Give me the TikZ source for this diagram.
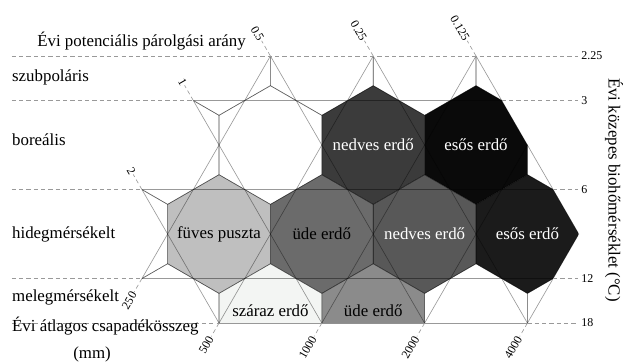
\documentclass[tikz,border=0pt]{standalone}
\usepackage{fontspec}
\setmainfont{Liberation Serif}

\definecolor{boreNedves}{HTML}{3B3B3B}
\definecolor{boreEsos}{HTML}{0A0A0A}
\definecolor{hidFuves}{HTML}{BFBFBF}
\definecolor{hidUde}{HTML}{6B6B6B}
\definecolor{hidNedves}{HTML}{585858}
\definecolor{hidEsos}{HTML}{1B1B1B}
\definecolor{melSzaraz}{HTML}{F3F5F3}
\definecolor{melUde}{HTML}{8B8B8B}

% one life-zone cell, centre (#1,#2)
\newcommand{\hexcell}[2]{({#1},{#2+4/3}) -- ({#1+1},{#2+2/3}) -- ({#1+1},{#2-2/3}) -- ({#1},{#2-4/3}) -- ({#1-1},{#2-2/3}) -- ({#1-1},{#2+2/3}) -- cycle}

\begin{document}
\begin{tikzpicture}[x=1.285cm, y=1.1128cm,
	grid/.style={draw=black, draw opacity=0.4, line width=0.45pt},
	guide/.style={draw=black!40, dash pattern=on 3pt off 2.2pt, line width=0.45pt},
	zone/.style={font=\fontsize{12}{14}\selectfont, inner sep=0pt},
	tick/.style={font=\fontsize{8.5}{10}\selectfont, inner sep=0.5pt},
	band/.style={font=\fontsize{12}{14}\selectfont, anchor=base west, inner sep=0pt}]

	\useasboundingbox (-4.261,-0.876) rectangle (7.879,7.258);

	% Zones
	\begin{scope}
		\clip (0,0) -- (-0.5,1) -- (-1.5,1) -- (-1,2) -- (-1.5,3) -- (-0.5,3) -- (0,4) -- (-0.5,5) -- (0.5,5) -- (1,6) -- (1.5,5) -- (2.5,5) -- (3,6) -- (3.5,5) -- (4.5,5) -- (5,6) -- (5.5,5) -- (6,4) -- (6.5,3) -- (7,2) -- (6.5,1) -- (6,0) -- cycle;
		\fill[boreNedves] \hexcell{3}{4};
		\fill[boreEsos] \hexcell{5}{4};
		\fill[hidFuves] \hexcell{0}{2};
		\fill[hidUde] \hexcell{2}{2};
		\fill[hidNedves] \hexcell{4}{2};
		\fill[hidEsos] \hexcell{6}{2};
		\fill[melSzaraz] \hexcell{1}{0};
		\fill[melUde] \hexcell{3}{0};
		% cell borders
		\foreach \cx/\cy in {-2/6,0/6,2/6,4/6,6/6,-1/4,1/4,3/4,5/4,7/4,-2/2,0/2,2/2,4/2,6/2,8/2,-1/0,1/0,3/0,5/0,7/0}
			\draw[grid] \hexcell{\cx}{\cy};
	\end{scope}

	% Axis points
	\coordinate (t2) at (-1.5,3);
	\coordinate (t1) at (-0.5,5);
	\coordinate (t05) at (1,6);
	\coordinate (t025) at (3,6);
	\coordinate (t0125) at (5,6);
	\coordinate (p250) at (-1.5,1);
	\coordinate (p500) at (0,0);
	\coordinate (p1000) at (2,0);
	\coordinate (p2000) at (4,0);
	\coordinate (p4000) at (6,0);

	% Temperature lines
	\draw[grid] (p250) -- (6.5,1);
	\draw[grid] (t2) -- (6.5,3);
	\draw[grid] (t1) -- (5.5,5);
	\draw[grid] (p500) -- (p4000);

	% Precipitation lines
	\draw[grid] (p250) -- (t05);
	\draw[grid] (p500) -- (t025);
	\draw[grid] (p1000) -- (t0125);
	\draw[grid] (p2000) -- (6,4);
	\draw[grid] (p4000) -- (7,2);

	% Evapotranspiration lines
	\draw[grid] (t2) -- (p500);
	\draw[grid] (t1) -- (p1000);
	\draw[grid] (t05) -- (p2000);
	\draw[grid] (t025) -- (p4000);
	\draw[grid] (t0125) -- (7,2);

	% Belt guides
	\draw[guide] (-4.03,6) -- (6.98,6);
	\draw[guide] (-4.03,5) -- (t1);
	\draw[guide] (5.5,5) -- (6.98,5);
	\draw[guide] (-4.03,3) -- (t2);
	\draw[guide] (6.5,3) -- (6.98,3);
	\draw[guide] (-4.03,1) -- (p250);
	\draw[guide] (6.5,1) -- (6.98,1);
	\draw[guide] (-4.03,0) -- (p500);
	\draw[guide] (p4000) -- (6.98,0);

	% Ratio and precipitation ticks
	\foreach \pt/\lab in {t2/2,t1/1,t05/0.5,t025/0.25,t0125/0.125}{
		\draw[guide] (\pt) -- ++(-0.17,0.34) coordinate (\pt-end);
		\node[tick, anchor=east, rotate=-60] (\pt-lab) at (\pt-end) {\lab};
	}
	\foreach \pt/\lab in {p250/250,p500/500,p1000/1000,p2000/2000,p4000/4000}{
		\draw[guide] (\pt) -- ++(-0.15,-0.3) coordinate (\pt-end);
		\node[tick, anchor=east, rotate=60] (\pt-lab) at (\pt-end) {\lab};
	}

	% Temperature values
	\node[tick, anchor=west] (v225) at (7.03,6) {2.25};
	\node[tick, anchor=west] (v3) at (7.03,5) {3};
	\node[tick, anchor=west] (v6) at (7.03,3) {6};
	\node[tick, anchor=west] (v12) at (7.03,1) {12};
	\node[tick, anchor=west] (v18) at (7.03,0) {18};
	\node[zone, rotate=-90] (ttitle) at (7.685,2.99) {Évi közepes biohőmérséklet (°C)};

	% Belts
	\node[band] (ptitle) at (-3.54,6.21) {Évi potenciális párolgási arány};
	\node[band] (szub) at (-4.03,5.42) {szubpoláris};
	\node[band] (bor) at (-4.03,3.98) {boreális};
	\node[band] (hid) at (-4.03,1.90) {hidegmérsékelt};
	\node[band] (mel) at (-4.03,0.48) {melegmérsékelt};
	\node[band] (ctitle) at (-4.03,-0.195) {Évi átlagos csapadékösszeg};
	\node[zone, anchor=base] (cunit) at (-2.47,-0.79) {(mm)};

	% Zone names
	\node[zone, text=white] (bNedves) at (3,4) {nedves erdő};
	\node[zone, text=white] (bEsos) at (5,4) {esős erdő};
	\node[zone] (hFuves) at (0,2) {füves puszta};
	\node[zone] (hUde) at (2,2) {üde erdő};
	\node[zone, text=white] (hNedves) at (4,2) {nedves erdő};
	\node[zone, text=white] (hEsos) at (6,2) {esős erdő};
	\node[zone] (mSzaraz) at (1,0.27) {száraz erdő};
	\node[zone] (mUde) at (3,0.27) {üde erdő};

\end{tikzpicture}
\end{document}
